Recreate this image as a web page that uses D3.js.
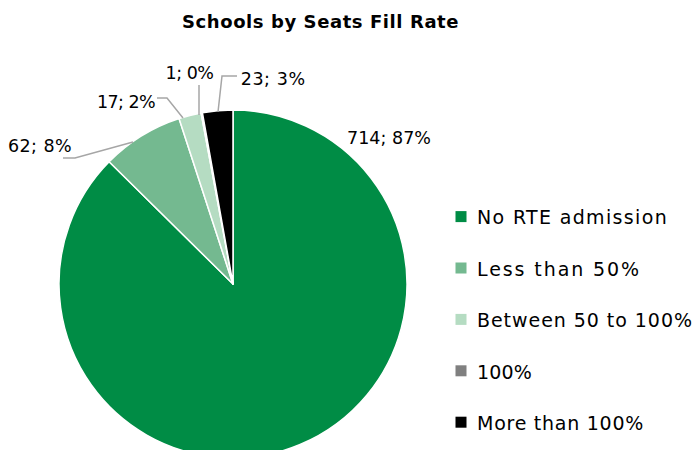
<!DOCTYPE html>
<html><head><meta charset="utf-8">
<script src="https://cdn.jsdelivr.net/npm/d3@7"></script>
<style>body{margin:0;background:#fff;} svg{display:block;font-family:"DejaVu Sans",sans-serif;}</style>
</head><body>
<svg id="c" width="695" height="450"></svg>
<script>
const categories = ["No RTE admission","Less than 50%","Between 50 to 100%","100%","More than 100%"];
const values = [714, 62, 17, 1, 23];
const percentLabels = ["87%","8%","2%","0%","3%"];
const colors = ["#008C45","#74B990","#B5DCC2","#808080","#000000"];

const svg = d3.select("#c");
const cx = 233, cy = 284, r = 174;

function fit(sel, w) {
  const n = sel.node(); const cur = n.getComputedTextLength();
  const chars = n.textContent.length;
  sel.attr("letter-spacing", ((w - cur) / chars).toFixed(2));
}

const title = svg.append("text").attr("x", 182).attr("y", 28.3)
  .attr("font-size", 18).attr("font-weight", 700).attr("fill","#000").text("Schools by Seats Fill Rate");
fit(title, 277);

const pie = d3.pie().sort(null).value(d => d)(values);
const arc = d3.arc().innerRadius(0).outerRadius(r);
const g = svg.append("g").attr("transform", `translate(${cx},${cy})`);
g.selectAll("path").data(pie).join("path")
  .attr("d", arc).attr("fill", (d,i) => colors[i])
  .attr("stroke","#fff").attr("stroke-width",1.5).attr("stroke-linejoin","round");

const labelPos = [
  {x:347, y:144.3, w:84, line:null},
  {x:8, y:151.7, w:64, line:[[63,158],[75,158],[133,142]]},
  {x:97, y:107.7, w:58, line:[[157,98],[167,98],[183,118]]},
  {x:165.5, y:79, w:48, line:[[199,85],[199,115]]},
  {x:240.7, y:85, w:65, line:[[237,76],[222,76],[218,112]]}
];
values.forEach((v,i) => {
  const lp = labelPos[i];
  if (lp.line) {
    svg.append("path").attr("d", d3.line()(lp.line)).attr("fill","none")
      .attr("stroke","#a6a6a6").attr("stroke-width",1.5);
  }
  const t = svg.append("text").attr("x", lp.x).attr("y", lp.y)
    .attr("font-size", 17.5).attr("fill","#000").text(`${v}; ${percentLabels[i]}`);
  fit(t, lp.w);
});

const legendW = [191, 164, 216, 55, 167];
const lg = svg.append("g");
categories.forEach((c,i) => {
  const y = 216.7 + i*51.4;
  lg.append("rect").attr("x",455.5).attr("y",y-5.6).attr("width",11).attr("height",11).attr("fill",colors[i]);
  const t = lg.append("text").attr("x",477).attr("y",y+7.6).attr("font-size",19).attr("fill","#000").text(c);
  fit(t, legendW[i]);
});
</script>
</body></html>
